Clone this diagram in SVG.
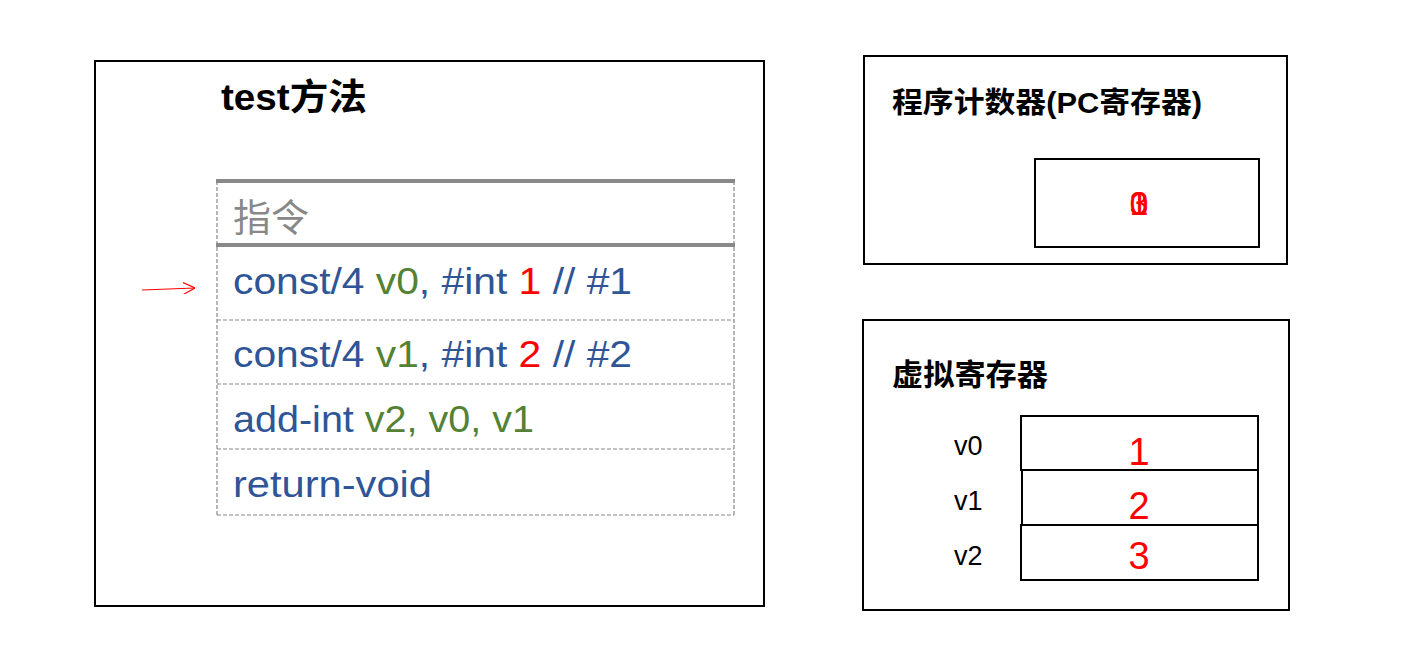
<svg xmlns="http://www.w3.org/2000/svg" width="1426" height="648" viewBox="0 0 1426 648">
<style>
.box{fill:#fff;stroke:#000;stroke-width:2}
.title{font-family:"Liberation Sans","Noto Sans CJK SC",sans-serif;font-weight:bold;fill:#000}
.code{font-family:"Liberation Sans","Noto Sans CJK SC",sans-serif;font-size:37px;fill:#2F5597}
.g{fill:#548235}
.r{fill:#FF0000}
.dash{stroke:#888;stroke-width:1.2;stroke-dasharray:4 2;fill:none}
.thick{stroke:#888;stroke-width:4}
.lbl{font-family:"Liberation Sans",sans-serif;font-size:27px;fill:#000}
.val{font-family:"Liberation Sans",sans-serif;font-size:38px;fill:#FF0000;text-anchor:middle}
</style>
<defs>
<marker id="ah" viewBox="0 0 10 10" refX="10" refY="5" markerWidth="12" markerHeight="12" markerUnits="userSpaceOnUse" orient="auto">
<path d="M0,0 L10,5 L0,10" fill="none" stroke="#FF0000" stroke-width="1"/>
</marker>
</defs>
<g id="method">
<rect class="box" x="95" y="61" width="669" height="545"/>
<text class="title" x="221" y="110" font-size="36" textLength="146" lengthAdjust="spacingAndGlyphs">test方法</text>
<g id="table">
<line class="dash" x1="217" y1="181" x2="217" y2="515"/>
<line class="dash" x1="734" y1="181" x2="734" y2="515"/>
<line class="dash" x1="217" y1="320" x2="734" y2="320"/>
<line class="dash" x1="217" y1="384" x2="734" y2="384"/>
<line class="dash" x1="217" y1="449" x2="734" y2="449"/>
<line class="dash" x1="217" y1="515" x2="734" y2="515"/>
<line class="thick" x1="216" y1="181" x2="735" y2="181"/>
<line class="thick" x1="216" y1="245" x2="735" y2="245"/>
<text x="233" y="231" font-family="'Noto Sans CJK SC',sans-serif" font-size="38" fill="#888">指令</text>
<text class="code" x="233" y="294" textLength="399" lengthAdjust="spacingAndGlyphs">const/4 <tspan class="g">v0</tspan>, #int <tspan class="r">1</tspan> // #1</text>
<text class="code" x="233" y="367" textLength="399" lengthAdjust="spacingAndGlyphs">const/4 <tspan class="g">v1</tspan>, #int <tspan class="r">2</tspan> // #2</text>
<text class="code" x="233" y="432" textLength="301" lengthAdjust="spacingAndGlyphs">add-int <tspan class="g">v2, v0, v1</tspan></text>
<text class="code" x="233" y="497" textLength="199" lengthAdjust="spacingAndGlyphs">return-void</text>
</g>
</g>
<g id="pc">
<rect class="box" x="864" y="56" width="423" height="208"/>
<text class="title" x="892" y="113" font-size="29" textLength="310" lengthAdjust="spacingAndGlyphs">程序计数器(PC寄存器)</text>
<rect class="box" x="1035" y="159" width="224" height="88"/>
<g font-family="'Liberation Sans Narrow','Liberation Sans',sans-serif" font-size="34" fill="#FF0000" text-anchor="middle">
<text x="1139" y="215">0</text>
<text x="1139" y="215">1</text>
<text x="1139" y="215">3</text>
</g>
</g>
<g id="vregs">
<rect class="box" x="863" y="320" width="426" height="290"/>
<text class="title" x="892" y="385" font-size="30" textLength="156" lengthAdjust="spacingAndGlyphs">虚拟寄存器</text>
<rect class="box" x="1021" y="416" width="237" height="54"/>
<rect class="box" x="1022" y="470" width="236" height="55"/>
<rect class="box" x="1021" y="525" width="237" height="55"/>
<text class="lbl" x="954" y="455">v0</text>
<text class="lbl" x="954" y="510">v1</text>
<text class="lbl" x="954" y="565">v2</text>
<text class="val" x="1139" y="465">1</text>
<text class="val" x="1139" y="519">2</text>
<text class="val" x="1139" y="569">3</text>
</g>
<g id="connectors">
<line x1="142" y1="290" x2="195" y2="288" stroke="#FF0000" stroke-width="1" marker-end="url(#ah)"/>
</g>
</svg>
